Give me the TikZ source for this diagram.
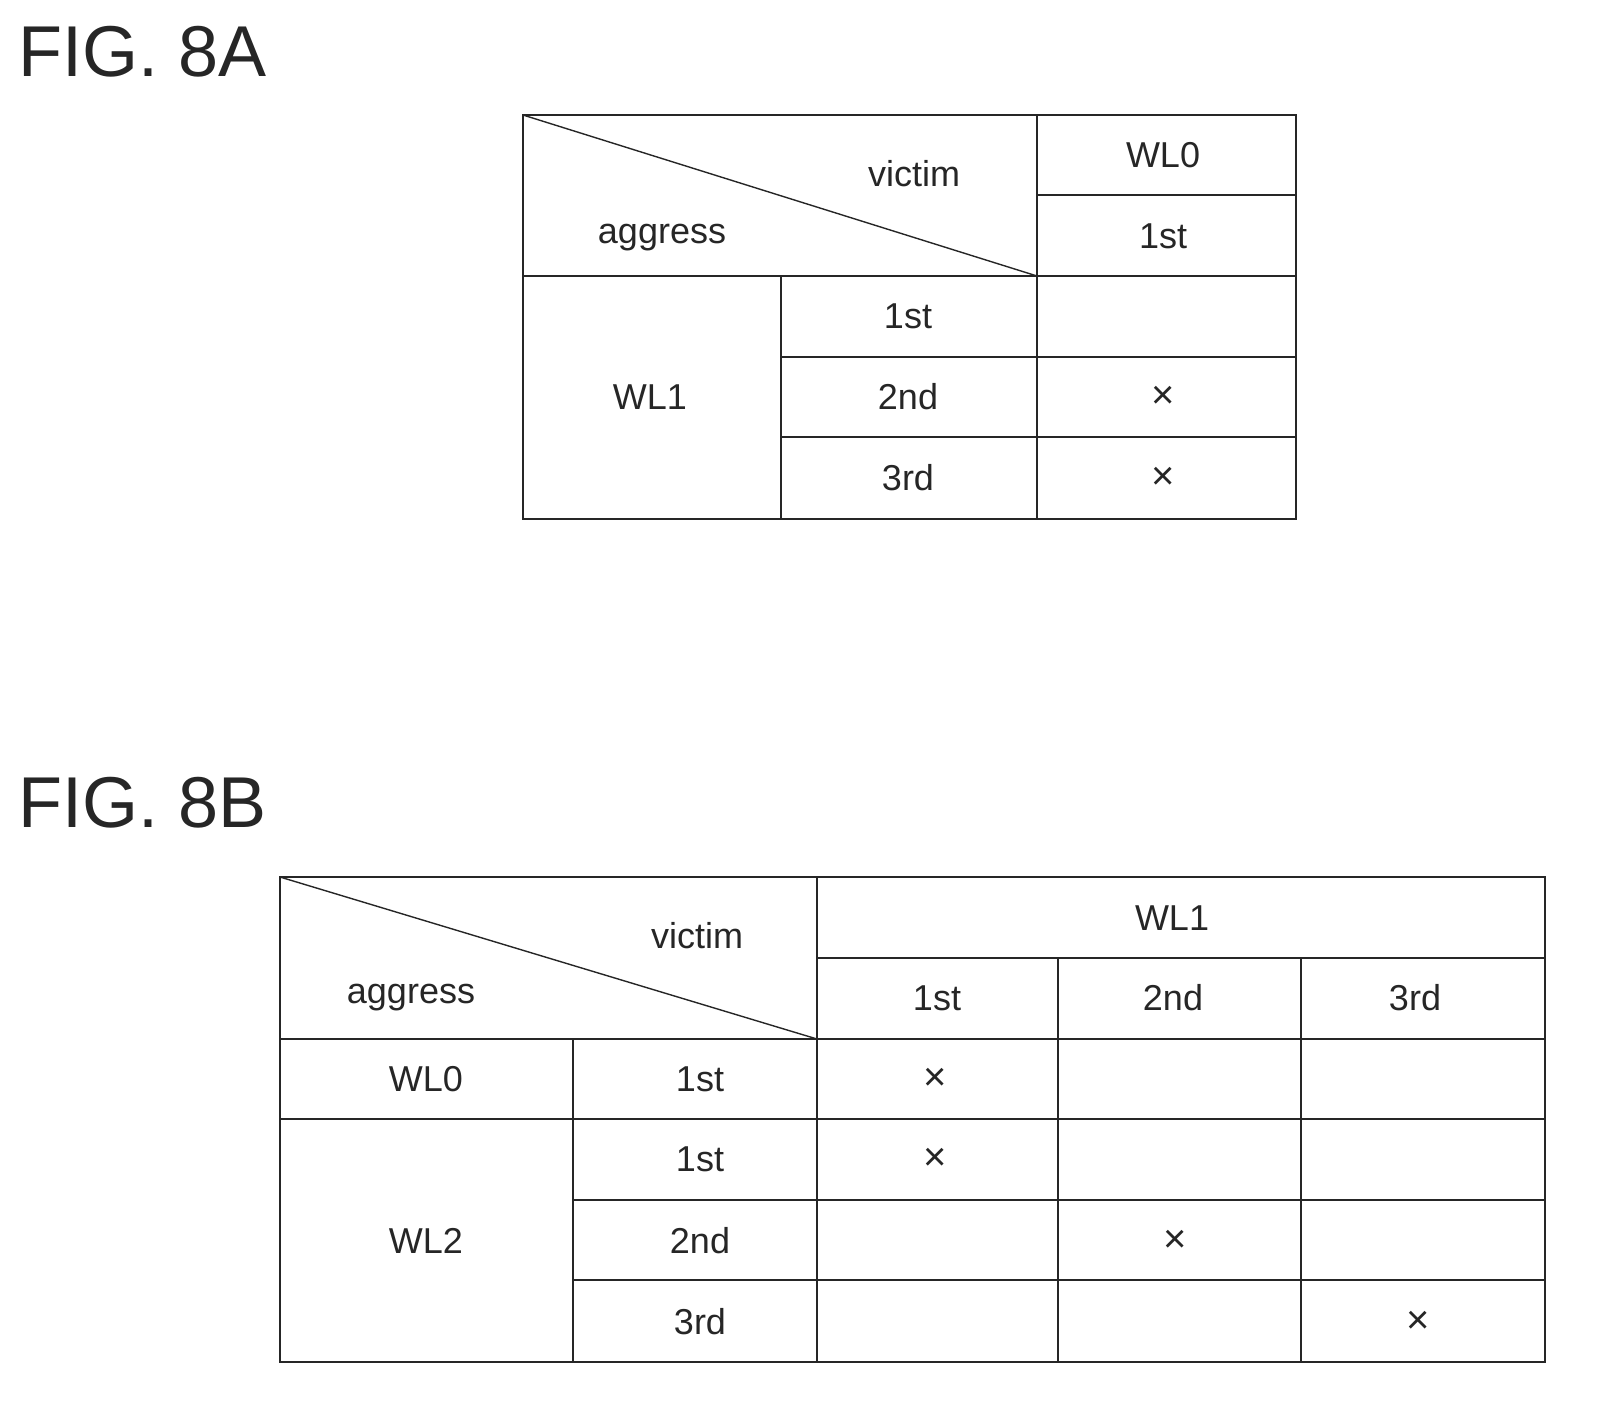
\documentclass[tikz,border=0pt]{standalone}
\usepackage{fontspec}
\setmainfont{Liberation Sans}
\begin{document}
\begin{tikzpicture}[x=1pt,y=-1pt,
 grid/.style={line width=2.2pt,draw=black!85},
 diag/.style={line width=1.4pt,draw=black!85},
 t/.style={font=\fontsize{36}{40}\selectfont,text=black!85,inner sep=0pt},
 xm/.style={font=\fontsize{40}{42}\selectfont,text=black!85,inner sep=0pt},
 ttl/.style={font=\fontsize{72}{80}\selectfont,text=black!85,anchor=west,inner sep=0pt}]
\useasboundingbox (0,0) rectangle (1599,1414);
\node[ttl] (ta) at (18,52) {FIG. 8A};
\node[ttl] (tb) at (18,803) {FIG. 8B};
% Table A
\draw[grid] (523,115) rectangle (1296,519);
\draw[grid] (1037,115) -- (1037,519);
\draw[grid] (781,276) -- (781,519);
\draw[grid] (1037,195) -- (1296,195);
\draw[grid] (523,276) -- (1296,276);
\draw[grid] (781,357) -- (1296,357);
\draw[grid] (781,437) -- (1296,437);
\draw[diag] (523,115) -- (1037,276);
\node[t] (a1) at (914,174) {victim};
\node[t] (a2) at (662,238) {aggress};
\node[t] (a3) at (1163,155) {WL0};
\node[t] (a4) at (1163,236) {1st};
\node[t] (a5) at (650,397) {WL1};
\node[t] (a6) at (908,316) {1st};
\node[t] (a7) at (908,397) {2nd};
\node[t] (a8) at (908,478) {3rd};
\node[xm] (a9) at (1163,397) {×};
\node[xm] (a10) at (1163,478) {×};
% Table B
\draw[grid] (280,877) rectangle (1545,1362);
\draw[grid] (817,877) -- (817,1362);
\draw[grid] (573,1039) -- (573,1362);
\draw[grid] (1058,958) -- (1058,1362);
\draw[grid] (1301,958) -- (1301,1362);
\draw[grid] (817,958) -- (1545,958);
\draw[grid] (280,1039) -- (1545,1039);
\draw[grid] (280,1119) -- (1545,1119);
\draw[grid] (573,1200) -- (1545,1200);
\draw[grid] (573,1280) -- (1545,1280);
\draw[diag] (280,877) -- (817,1039);
\node[t] (b1) at (697,936) {victim};
\node[t] (b2) at (411,998) {aggress};
\node[t] (b3) at (1172,918) {WL1};
\node[t] (b4) at (937,998) {1st};
\node[t] (b5) at (1173,998) {2nd};
\node[t] (b6) at (1415,998) {3rd};
\node[t] (b7) at (426,1079) {WL0};
\node[t] (b8) at (700,1079) {1st};
\node[t] (b9) at (426,1241) {WL2};
\node[t] (b10) at (700,1159) {1st};
\node[t] (b11) at (700,1241) {2nd};
\node[t] (b12) at (700,1322) {3rd};
\node[xm] (x1) at (935,1079) {×};
\node[xm] (x2) at (935,1159) {×};
\node[xm] (x3) at (1175,1241) {×};
\node[xm] (x4) at (1418,1322) {×};
\end{tikzpicture}
\end{document}
